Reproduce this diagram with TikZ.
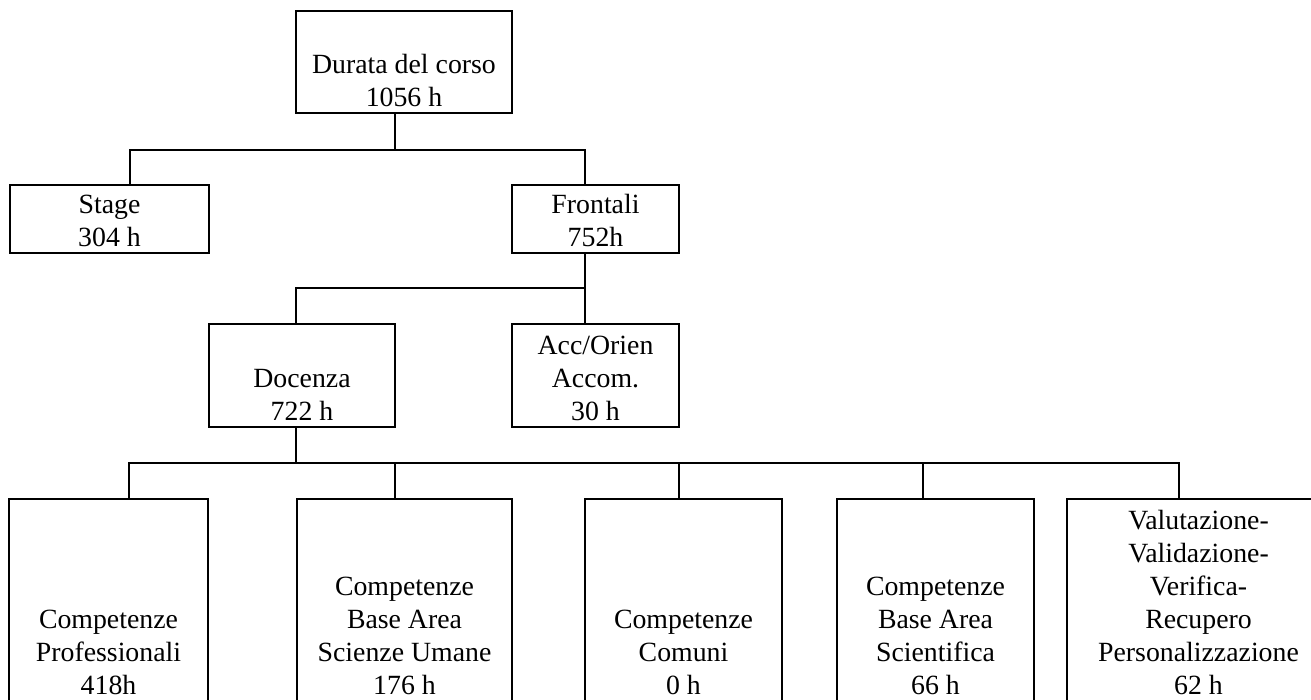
\documentclass[tikz,border=0pt]{standalone}
\usepackage{fontspec}
\setmainfont{Liberation Serif}

\begin{document}
\begin{tikzpicture}[x=1pt,y=-1pt,
  box/.style={draw,line width=2.2pt,rectangle,inner sep=0pt},
  txt/.style={align=center,inner sep=0pt,anchor=south,yshift=7pt,
    font=\fontsize{27.8}{33}\selectfont},
  link/.style={line width=2.2pt}]
\path[use as bounding box,clip] (0,0) rectangle (1311,699);
%Blocchi superiori
\node[box,minimum width=216pt,minimum height=102pt,
  label={[txt]south:{Durata del corso\\1056 h}}] (durata) at (404,62) {};
\node[box,minimum width=199pt,minimum height=68pt,
  label={[txt]south:{Stage\\304 h}}] (stage) at (109.5,219) {};
\node[box,minimum width=167pt,minimum height=68pt,
  label={[txt]south:{Frontali\\752h}}] (frontali) at (595.5,219) {};
\node[box,minimum width=186pt,minimum height=103pt,
  label={[txt]south:{Docenza\\722 h}}] (docenza) at (302,375.5) {};
\node[box,minimum width=167pt,minimum height=103pt,
  label={[txt]south:{Acc/Orien\\Accom.\\30 h}}] (acc) at (595.5,375.5) {};
%Blocchi inferiori (tagliati dal bordo)
\node[box,minimum width=199pt,minimum height=202pt,
  label={[txt]south:{Competenze\\Professionali\\418h}}] (prof) at (108.5,600) {};
\node[box,minimum width=215pt,minimum height=202pt,
  label={[txt]south:{Competenze\\Base Area\\Scienze Umane\\176 h}}] (umane) at (404.5,600) {};
\node[box,minimum width=197pt,minimum height=202pt,
  label={[txt]south:{Competenze\\Comuni\\0 h}}] (comuni) at (683.5,600) {};
\node[box,minimum width=197pt,minimum height=202pt,
  label={[txt]south:{Competenze\\Base Area\\Scientifica\\66 h}}] (scient) at (935.5,600) {};
\node[box,minimum width=263pt,minimum height=202pt,
  label={[txt]south:{Valutazione-\\Validazione-\\Verifica-\\Recupero\\Personalizzazione\\62 h}}] (valut) at (1198.5,600) {};
%Collegamenti primo livello
\coordinate (b1L) at (130,150);
\coordinate (b1M) at (395,150);
\coordinate (b1R) at (585,150);
\draw[link] (durata.south -| b1M) -- (b1M);
\draw[link] (stage.north -| b1L) -- (b1L) -- (b1R) -- (frontali.north -| b1R);
%Collegamenti secondo livello
\coordinate (b2L) at (296,288);
\coordinate (b2R) at (585,288);
\draw[link] (frontali.south -| b2R) -- (acc.north -| b2R);
\draw[link] (b2R) -- (b2L) -- (docenza.north -| b2L);
%Collegamenti terzo livello
\coordinate (b3) at (296,463);
\draw[link] (docenza.south -| b3) -- (b3);
\foreach \nm/\x in {prof/129,umane/395,comuni/679,scient/923,valut/1179}
  \coordinate (t\nm) at (\x,463);
\draw[link] (prof.north -| tprof) -- (tprof) -- (tvalut) -- (valut.north -| tvalut);
\foreach \nm in {umane,comuni,scient}
  \draw[link] (\nm.north -| t\nm) -- (t\nm);
\end{tikzpicture}
\end{document}
